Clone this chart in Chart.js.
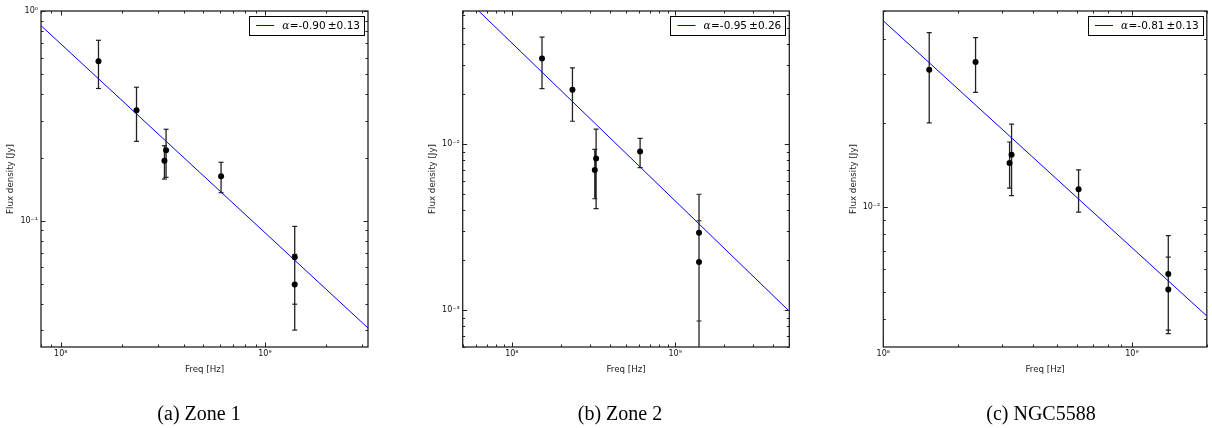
<!DOCTYPE html>
<html>
<head>
<meta charset="utf-8">
<script src="https://cdn.jsdelivr.net/npm/chart.js@4/dist/chart.umd.min.js"></script>
<style>
  html, body { margin: 0; padding: 0; background: #fff; }
  body { width: 1212px; height: 428px; position: relative; overflow: hidden; }
  canvas { position: absolute; top: 0; }
  .cap {
    position: absolute; top: 403px; white-space: nowrap; color: #000;
    font-family: 'Liberation Serif', 'Times New Roman', serif;
    font-size: 20px; line-height: 20px; transform: translateX(-50%);
  }
</style>
</head>
<body>
<canvas id="zone1" width="400" height="428" style="left:0px"></canvas>
<canvas id="zone2" width="400" height="428" style="left:420px"></canvas>
<canvas id="ngc5588" width="382" height="428" style="left:830px"></canvas>
<div class="cap" style="left:199px">(a) Zone 1</div>
<div class="cap" style="left:620px">(b) Zone 2</div>
<div class="cap" style="left:1041px">(c) NGC5588</div>

<script>
// Observing frequencies [Hz] (two nearby bands around 325 MHz, two 1.4 GHz measurements)
const freqHz = [1.53e8, 2.35e8, 3.22e8, 3.28e8, 6.1e8, 1.4e9, 1.4e9];

// Flux densities [Jy] and 1-sigma errors
const fluxZone1 = [0.576, 0.336, 0.193, 0.217, 0.163, 0.067, 0.0496];
const errZone1  = [0.149, 0.097, 0.035, 0.056, 0.027, 0.027, 0.0195];

const fluxZone2 = [0.0327, 0.0212, 0.00698, 0.00818, 0.0090, 0.00292, 0.00195];
const errZone2  = [0.0112, 0.0075, 0.0023, 0.0041, 0.0018, 0.00206, 0.0015];

const fluxNGC = [0.0310, 0.0330, 0.0144, 0.0154, 0.0116, 0.00578, 0.00509];
const errNGC  = [0.0110, 0.0073, 0.0027, 0.0044, 0.0020, 0.00214, 0.00155];

// Power-law fits S = S(100 MHz) * (nu / 100 MHz)^alpha
const fitAlpha    = [-0.90, -0.95, -0.81];
const fitAlphaErr = [0.13, 0.26, 0.13];
const fitNorm     = [0.697, 0.0405, 0.0463];

// Axis limits per panel
const xLimits = [[8e7, 3.2e9], [5e7, 5e9], [1e8, 2e9]];
const yLimits = [[0.025, 1.0], [6.37e-4, 0.0631], [3.17e-3, 0.0502]];

const xTitle = 'Freq [Hz]';
const yTitle = 'Flux density [Jy]';

// Panel placement inside each canvas (chart-area box, canvas-local px)
const panels = [
  { id: 'zone1',   flux: fluxZone1, err: errZone1, left: 41.0, right: 368.0, w: 400 },
  { id: 'zone2',   flux: fluxZone2, err: errZone2, left: 42.7, right: 369.3, w: 400 },
  { id: 'ngc5588', flux: fluxNGC,   err: errNGC,   left: 53.3, right: 379.0, w: 382 }
];
const AREA_TOP = 11, AREA_BOTTOM = 347, CANVAS_H = 428;
const Y_AXIS_W = 35, X_AXIS_H = 28.2;

const SUP = { '-': '\u207B', '0': '\u2070', '1': '\u00B9', '2': '\u00B2', '3': '\u00B3',
  '4': '\u2074', '5': '\u2075', '6': '\u2076', '7': '\u2077', '8': '\u2078', '9': '\u2079' };
function powLabel(v) {
  const e = String(Math.round(Math.log10(v)));
  return '10' + e.split('').map(c => SUP[c]).join('');
}
function decades(min, max) {
  const out = [];
  for (let e = Math.floor(Math.log10(min)); e <= Math.ceil(Math.log10(max)); e++) {
    const v = Math.pow(10, e);
    if (v >= min * (1 - 1e-9) && v <= max * (1 + 1e-9)) out.push(v);
  }
  return out;
}
function logMarks(min, max) {
  const out = [];
  for (let e = Math.floor(Math.log10(min)); e <= Math.ceil(Math.log10(max)); e++) {
    for (let m = 1; m <= 9; m++) {
      const v = m * Math.pow(10, e);
      if (v >= min * (1 - 1e-9) && v <= max * (1 + 1e-9)) out.push({ v, major: m === 1 });
    }
  }
  return out;
}

// Box frame with inward-pointing major/minor ticks on all four sides
const frameTicks = {
  id: 'frameTicks',
  afterDatasetsDraw(chart) {
    const { ctx, chartArea: a, scales: { x, y } } = chart;
    ctx.save();
    ctx.strokeStyle = '#222';
    ctx.lineWidth = 1;
    ctx.beginPath();
    for (const t of logMarks(x.min, x.max)) {
      const px = Math.round(x.getPixelForValue(t.v)) + 0.5;
      const L = t.major ? 4.5 : 2.5;
      ctx.moveTo(px, a.bottom); ctx.lineTo(px, a.bottom - L);
      ctx.moveTo(px, a.top);    ctx.lineTo(px, a.top + L);
    }
    for (const t of logMarks(y.min, y.max)) {
      const py = Math.round(y.getPixelForValue(t.v)) + 0.5;
      const L = t.major ? 4.5 : 2.5;
      ctx.moveTo(a.left, py);  ctx.lineTo(a.left + L, py);
      ctx.moveTo(a.right, py); ctx.lineTo(a.right - L, py);
    }
    ctx.stroke();
    ctx.lineWidth = 1.3;
    ctx.strokeRect(a.left, a.top, a.right - a.left, a.bottom - a.top);
    ctx.restore();
  }
};

// Framed legend in the upper-right corner for the power-law fit
const fitLegend = {
  id: 'fitLegend',
  afterDraw(chart) {
    const ds = chart.data.datasets.find(d => d.isFit);
    if (!ds) return;
    const { ctx, chartArea: a } = chart;
    const sym = ds.label.charAt(0);
    const rest = ds.label.slice(1);
    const symFont = 'italic 10.5px "DejaVu Serif", serif';
    const txtFont = '10.5px "DejaVu Sans", sans-serif';
    ctx.save();
    ctx.font = symFont;
    const symW = ctx.measureText(sym).width;
    ctx.font = txtFont;
    const restW = ctx.measureText(rest).width;
    const boxW = 33.3 + symW + 0.5 + restW + 3.5;
    const right = a.right - 4.5;
    const left = right - boxW;
    const top = a.top + 5;
    const h = 18.5;
    const midY = top + h / 2;
    ctx.fillStyle = '#fff';
    ctx.fillRect(left, top, boxW, h);
    ctx.strokeStyle = '#000';
    ctx.lineWidth = 1;
    ctx.strokeRect(Math.round(left) + 0.5, Math.round(top) + 0.5, Math.round(boxW), Math.round(h));
    ctx.strokeStyle = ds.borderColor;
    ctx.lineWidth = ds.borderWidth;
    ctx.beginPath();
    ctx.moveTo(left + 7.3, Math.round(midY) + 0.5);
    ctx.lineTo(left + 25.3, Math.round(midY) + 0.5);
    ctx.stroke();
    ctx.fillStyle = '#000';
    ctx.textBaseline = 'alphabetic';
    ctx.font = symFont;
    ctx.fillText(sym, left + 33.3, midY + 3.8);
    ctx.font = txtFont;
    ctx.fillText(rest, left + 33.3 + symW + 0.5, midY + 3.8);
    ctx.restore();
  }
};

panels.forEach((p, k) => {
  const [xmin, xmax] = xLimits[k];
  const [ymin, ymax] = yLimits[k];

  const points = freqHz.map((f, i) => ({ x: f, y: p.flux[i] }));
  const bars = [];
  freqHz.forEach((f, i) => {
    bars.push({ x: f, y: p.flux[i] - p.err[i] }, { x: f, y: p.flux[i] + p.err[i] }, { x: f, y: null });
  });
  const fit = [xmin, xmax].map(f => ({ x: f, y: fitNorm[k] * Math.pow(f / 1e8, fitAlpha[k]) }));
  const label = '\u03B1=' + fitAlpha[k].toFixed(2) + '\u2009\u00B1' + fitAlphaErr[k].toFixed(2);

  const axisFont = { family: 'DejaVu Sans', size: 8 };
  const titleFont = { family: 'DejaVu Sans', size: 8.7 };

  new Chart(document.getElementById(p.id), {
    type: 'scatter',
    data: {
      datasets: [
        {
          label: 'data', data: points, showLine: false,
          pointRadius: 3, pointBackgroundColor: '#000', pointBorderColor: '#000', pointBorderWidth: 0,
          clip: 0
        },
        {
          label: label, isFit: true, data: fit, showLine: true,
          borderColor: '#0000ff', borderWidth: 1, pointRadius: 0, clip: 0
        },
        {
          label: 'errors', data: bars, showLine: true, spanGaps: false,
          borderColor: '#222', borderWidth: 1.3,
          pointStyle: 'line', pointRadius: 2.5, pointBorderColor: '#222', pointBorderWidth: 1.2,
          clip: 0
        }
      ]
    },
    options: {
      responsive: false,
      animation: false,
      events: [],
      layout: {
        padding: {
          left: p.left - Y_AXIS_W,
          right: p.w - p.right,
          top: AREA_TOP,
          bottom: CANVAS_H - AREA_BOTTOM - X_AXIS_H
        }
      },
      plugins: { legend: { display: false }, tooltip: { enabled: false } },
      scales: {
        x: {
          type: 'logarithmic', position: 'bottom', min: xmin, max: xmax,
          grid: { display: false, drawTicks: false }, border: { display: false },
          ticks: { autoSkip: false, maxRotation: 0, padding: 2, font: axisFont, color: '#111',
                   callback: v => powLabel(v) },
          afterBuildTicks: s => { s.ticks = decades(xmin, xmax).map(v => ({ value: v })); },
          afterFit: s => { s.height = X_AXIS_H; },
          title: { display: true, text: xTitle, font: titleFont, color: '#222', padding: 0 }
        },
        y: {
          type: 'logarithmic', position: 'left', min: ymin, max: ymax,
          grid: { display: false, drawTicks: false }, border: { display: false },
          ticks: { autoSkip: false, padding: 3, font: axisFont, color: '#111',
                   callback: v => powLabel(v) },
          afterBuildTicks: s => { s.ticks = decades(ymin, ymax).map(v => ({ value: v })); },
          afterFit: s => { s.width = Y_AXIS_W; },
          title: { display: true, text: yTitle, font: titleFont, color: '#222', padding: 0 }
        }
      }
    },
    plugins: [frameTicks, fitLegend]
  });
});
</script>
</body>
</html>
